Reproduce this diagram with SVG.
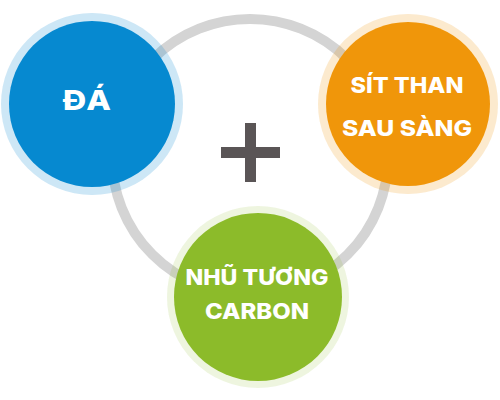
<svg xmlns="http://www.w3.org/2000/svg" width="500" height="400" viewBox="0 0 500 400">
  <style>
    .lbl { font-family: "Inter", "DejaVu Sans", "Liberation Sans", sans-serif; font-weight: 800; fill: #ffffff; text-anchor: middle; }
    .halo { stroke: none; }
  </style>
  <rect width="500" height="400" fill="#ffffff"/>
  <g id="connectors">
    <circle cx="250" cy="157" r="138" fill="none" stroke="#d4d4d4" stroke-width="10"/>
  </g>
  <g id="plus">
    <rect x="221" y="147" width="59" height="11" fill="#5a5556"/>
    <rect x="245" y="123" width="11" height="59" fill="#5a5556"/>
  </g>
  <g id="node-da">
    <circle class="halo" cx="92" cy="104" r="91" fill="#0689d0" fill-opacity="0.2"/>
    <circle cx="92" cy="104" r="83" fill="#0689d0"/>
    <text class="lbl" x="87" y="110" font-size="27.5" textLength="48" lengthAdjust="spacingAndGlyphs">ĐÁ</text>
  </g>
  <g id="node-sit-than">
    <circle class="halo" cx="408" cy="104" r="90" fill="#f0960a" fill-opacity="0.2"/>
    <circle cx="408" cy="104" r="82" fill="#f0960a"/>
    <text class="lbl" x="407" y="93" font-size="22" textLength="113" lengthAdjust="spacingAndGlyphs">SÍT THAN</text>
    <text class="lbl" x="407" y="136" font-size="22" textLength="130" lengthAdjust="spacingAndGlyphs">SAU SÀNG</text>
  </g>
  <g id="node-nhu-tuong">
    <circle class="halo" cx="258" cy="297" r="91" fill="#8cbb2a" fill-opacity="0.15"/>
    <circle cx="258" cy="297" r="84" fill="#8cbb2a"/>
    <text class="lbl" x="257" y="284.5" font-size="22" textLength="143" lengthAdjust="spacingAndGlyphs">NHŨ TƯƠNG</text>
    <text class="lbl" x="257" y="318.5" font-size="22" textLength="104" lengthAdjust="spacingAndGlyphs">CARBON</text>
  </g>
</svg>
